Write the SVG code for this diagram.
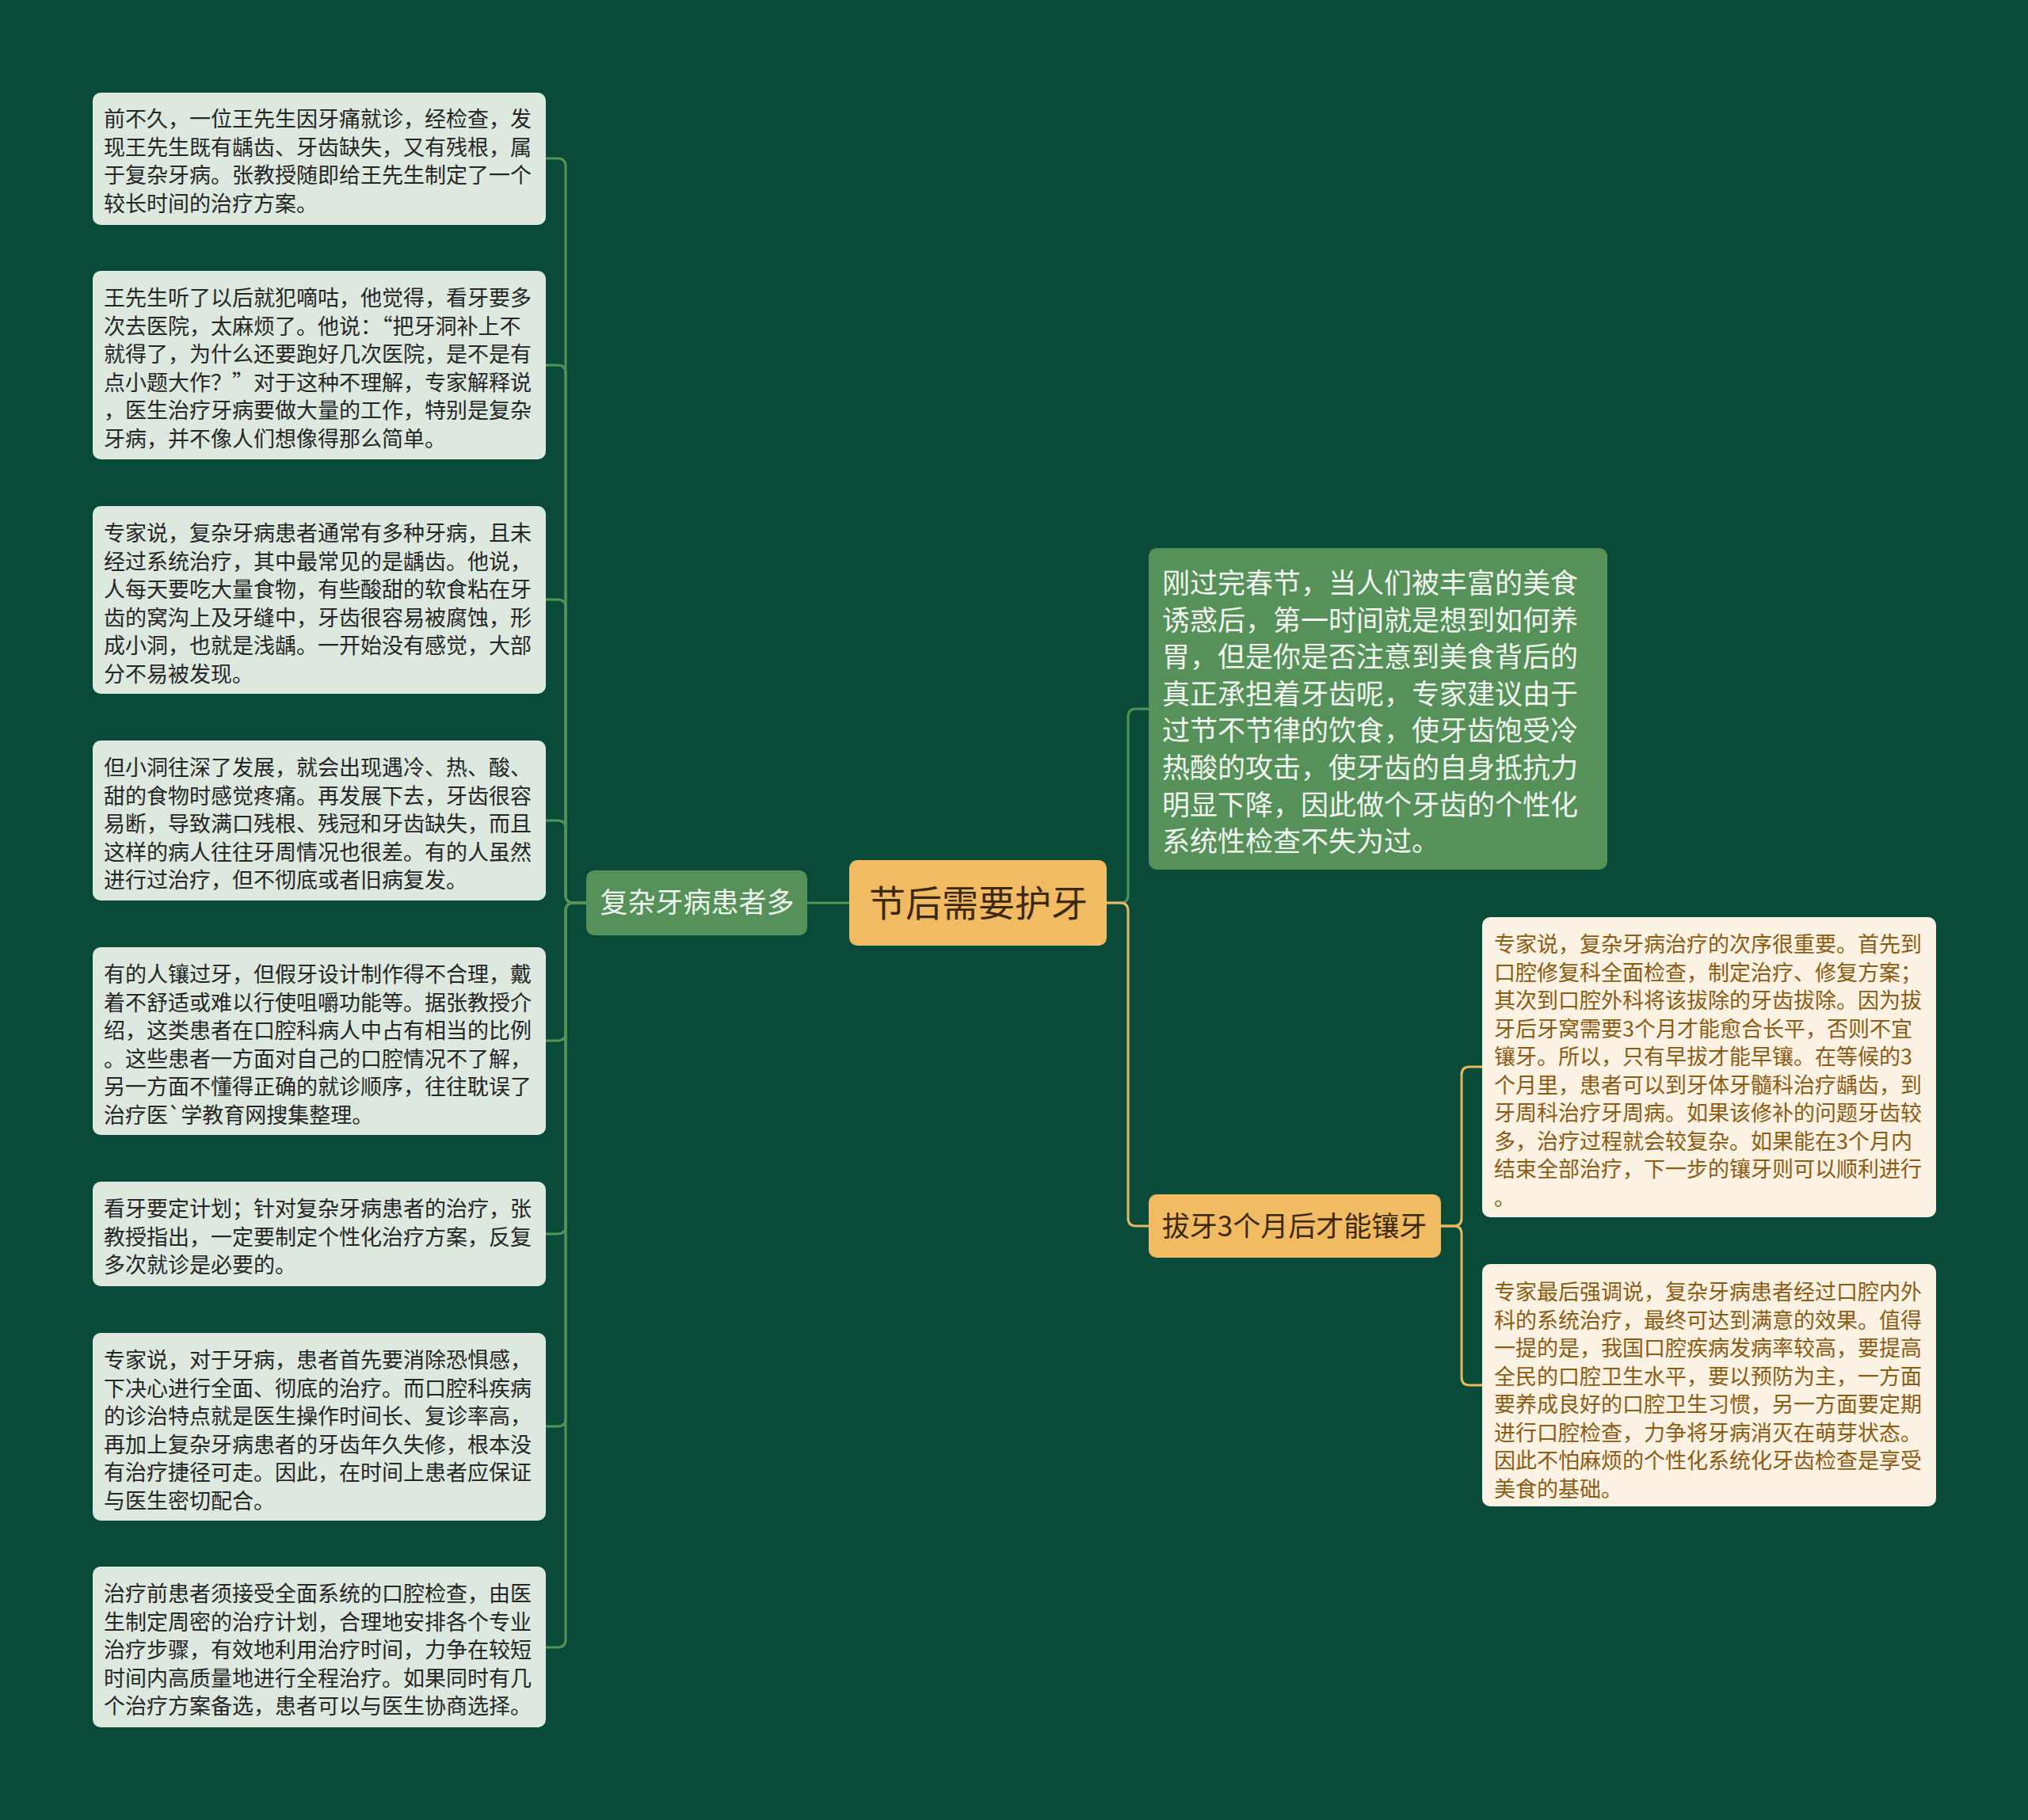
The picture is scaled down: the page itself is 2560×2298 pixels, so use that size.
<svg xmlns="http://www.w3.org/2000/svg" width="2560" height="2298" viewBox="0 0 2560 2298">
<style>
text{font-family:"Noto Sans CJK SC","Noto Sans",sans-serif;}
.lbox{fill:#dde8df;}
.rbox{fill:#fcf2e3;}
.gbox{fill:#559159;}
.obox{fill:#f0bb62;}
.tl{font-size:27px;fill:#262626;}
.tr{font-size:27px;fill:#8d5c12;}
.tg{font-size:35px;fill:#f2f7f2;}
.cg{fill:none;stroke:#559159;stroke-width:3;}
.co{fill:none;stroke:#e8b75e;stroke-width:3;}
</style>
<rect x="0" y="0" width="2560" height="2298" fill="#094a38"/>
<g id="connectors">
<path class="cg" d="M1019,1140 L1072,1140"/>
<path class="cg" d="M1397,1140 L1414,1140 Q1424,1140 1424,1130 L1424,905 Q1424,895 1434,895 L1450,895"/>
<path class="co" d="M1397,1140 L1414,1140 Q1424,1140 1424,1150 L1424,1538 Q1424,1548 1434,1548 L1450,1548"/>
<path class="co" d="M1819,1548 L1835,1548 Q1845,1548 1845,1538 L1845,1357 Q1845,1347 1855,1347 L1871,1347"/>
<path class="co" d="M1819,1548 L1835,1548 Q1845,1548 1845,1558 L1845,1739 Q1845,1749 1855,1749 L1871,1749"/>
<path class="cg" d="M740,1140 L724,1140 Q714,1140 714,1130 L714,210 Q714,200 704,200 L689,200"/>
<path class="cg" d="M740,1140 L724,1140 Q714,1140 714,1130 L714,471 Q714,461 704,461 L689,461"/>
<path class="cg" d="M740,1140 L724,1140 Q714,1140 714,1130 L714,767 Q714,757 704,757 L689,757"/>
<path class="cg" d="M740,1140 L724,1140 Q714,1140 714,1130 L714,1046 Q714,1036 704,1036 L689,1036"/>
<path class="cg" d="M740,1140 L724,1140 Q714,1140 714,1150 L714,1304 Q714,1314 704,1314 L689,1314"/>
<path class="cg" d="M740,1140 L724,1140 Q714,1140 714,1150 L714,1548 Q714,1558 704,1558 L689,1558"/>
<path class="cg" d="M740,1140 L724,1140 Q714,1140 714,1150 L714,1791 Q714,1801 704,1801 L689,1801"/>
<path class="cg" d="M740,1140 L724,1140 Q714,1140 714,1150 L714,2070 Q714,2080 704,2080 L689,2080"/>
</g>
<g id="root">
<rect class="obox" x="1072" y="1086" width="325" height="108" rx="10"/>
<text x="1235" y="1157" font-size="46" fill="#3d2a0e" text-anchor="middle">节后需要护牙</text>
</g>
<g id="branch-left">
<rect class="gbox" x="740" y="1099" width="279" height="82" rx="10"/>
<text x="880" y="1152" font-size="35" fill="#eef5ee" text-anchor="middle">复杂牙病患者多</text>
</g>
<g id="branch-right-top">
<rect class="gbox" x="1450" y="692" width="579" height="406" rx="10"/>
<text class="tg"><tspan x="1467" y="749">刚过完春节，当人们被丰富的美食</tspan><tspan x="1467" dy="46.6">诱惑后，第一时间就是想到如何养</tspan><tspan x="1467" dy="46.6">胃，但是你是否注意到美食背后的</tspan><tspan x="1467" dy="46.6">真正承担着牙齿呢，专家建议由于</tspan><tspan x="1467" dy="46.6">过节不节律的饮食，使牙齿饱受冷</tspan><tspan x="1467" dy="46.6">热酸的攻击，使牙齿的自身抵抗力</tspan><tspan x="1467" dy="46.6">明显下降，因此做个牙齿的个性化</tspan><tspan x="1467" dy="46.6">系统性检查不失为过。</tspan></text>
</g>
<g id="branch-right-bottom">
<rect class="obox" x="1450" y="1508" width="369" height="80" rx="10"/>
<text x="1634" y="1561" font-size="35" fill="#3d2a0e" text-anchor="middle">拔牙3个月后才能镶牙</text>
</g>
<g id="leaf-r1">
<rect class="rbox" x="1871" y="1158" width="573" height="379" rx="10"/>
<text class="tr"><tspan x="1886" y="1202">专家说，复杂牙病治疗的次序很重要。首先到</tspan><tspan x="1886" dy="35.5">口腔修复科全面检查，制定治疗、修复方案；</tspan><tspan x="1886" dy="35.5">其次到口腔外科将该拔除的牙齿拔除。因为拔</tspan><tspan x="1886" dy="35.5">牙后牙窝需要3个月才能愈合长平，否则不宜</tspan><tspan x="1886" dy="35.5">镶牙。所以，只有早拔才能早镶。在等候的3</tspan><tspan x="1886" dy="35.5">个月里，患者可以到牙体牙髓科治疗龋齿，到</tspan><tspan x="1886" dy="35.5">牙周科治疗牙周病。如果该修补的问题牙齿较</tspan><tspan x="1886" dy="35.5">多，治疗过程就会较复杂。如果能在3个月内</tspan><tspan x="1886" dy="35.5">结束全部治疗，下一步的镶牙则可以顺利进行</tspan><tspan x="1886" dy="35.5">。</tspan></text>
</g>
<g id="leaf-r2">
<rect class="rbox" x="1871" y="1596" width="573" height="306" rx="10"/>
<text class="tr"><tspan x="1886" y="1641">专家最后强调说，复杂牙病患者经过口腔内外</tspan><tspan x="1886" dy="35.5">科的系统治疗，最终可达到满意的效果。值得</tspan><tspan x="1886" dy="35.5">一提的是，我国口腔疾病发病率较高，要提高</tspan><tspan x="1886" dy="35.5">全民的口腔卫生水平，要以预防为主，一方面</tspan><tspan x="1886" dy="35.5">要养成良好的口腔卫生习惯，另一方面要定期</tspan><tspan x="1886" dy="35.5">进行口腔检查，力争将牙病消灭在萌芽状态。</tspan><tspan x="1886" dy="35.5">因此不怕麻烦的个性化系统化牙齿检查是享受</tspan><tspan x="1886" dy="35.5">美食的基础。</tspan></text>
</g>
<g id="leaf-l1">
<rect class="lbox" x="117" y="117" width="572" height="167" rx="10"/>
<text class="tl"><tspan x="131" y="160">前不久，一位王先生因牙痛就诊，经检查，发</tspan><tspan x="131" dy="35.6">现王先生既有龋齿、牙齿缺失，又有残根，属</tspan><tspan x="131" dy="35.6">于复杂牙病。张教授随即给王先生制定了一个</tspan><tspan x="131" dy="35.6">较长时间的治疗方案。</tspan></text>
</g>
<g id="leaf-l2">
<rect class="lbox" x="117" y="342" width="572" height="238" rx="10"/>
<text class="tl"><tspan x="131" y="386">王先生听了以后就犯嘀咕，他觉得，看牙要多</tspan><tspan x="131" dy="35.6">次去医院，太麻烦了。他说：“把牙洞补上不</tspan><tspan x="131" dy="35.6">就得了，为什么还要跑好几次医院，是不是有</tspan><tspan x="131" dy="35.6">点小题大作？”对于这种不理解，专家解释说</tspan><tspan x="131" dy="35.6">，医生治疗牙病要做大量的工作，特别是复杂</tspan><tspan x="131" dy="35.6">牙病，并不像人们想像得那么简单。</tspan></text>
</g>
<g id="leaf-l3">
<rect class="lbox" x="117" y="639" width="572" height="237" rx="10"/>
<text class="tl"><tspan x="131" y="683">专家说，复杂牙病患者通常有多种牙病，且未</tspan><tspan x="131" dy="35.6">经过系统治疗，其中最常见的是龋齿。他说，</tspan><tspan x="131" dy="35.6">人每天要吃大量食物，有些酸甜的软食粘在牙</tspan><tspan x="131" dy="35.6">齿的窝沟上及牙缝中，牙齿很容易被腐蚀，形</tspan><tspan x="131" dy="35.6">成小洞，也就是浅龋。一开始没有感觉，大部</tspan><tspan x="131" dy="35.6">分不易被发现。</tspan></text>
</g>
<g id="leaf-l4">
<rect class="lbox" x="117" y="935" width="572" height="202" rx="10"/>
<text class="tl"><tspan x="131" y="979">但小洞往深了发展，就会出现遇冷、热、酸、</tspan><tspan x="131" dy="35.6">甜的食物时感觉疼痛。再发展下去，牙齿很容</tspan><tspan x="131" dy="35.6">易断，导致满口残根、残冠和牙齿缺失，而且</tspan><tspan x="131" dy="35.6">这样的病人往往牙周情况也很差。有的人虽然</tspan><tspan x="131" dy="35.6">进行过治疗，但不彻底或者旧病复发。</tspan></text>
</g>
<g id="leaf-l5">
<rect class="lbox" x="117" y="1196" width="572" height="237" rx="10"/>
<text class="tl"><tspan x="131" y="1240">有的人镶过牙，但假牙设计制作得不合理，戴</tspan><tspan x="131" dy="35.6">着不舒适或难以行使咀嚼功能等。据张教授介</tspan><tspan x="131" dy="35.6">绍，这类患者在口腔科病人中占有相当的比例</tspan><tspan x="131" dy="35.6">。这些患者一方面对自己的口腔情况不了解，</tspan><tspan x="131" dy="35.6">另一方面不懂得正确的就诊顺序，往往耽误了</tspan><tspan x="131" dy="35.6">治疗医`学教育网搜集整理。</tspan></text>
</g>
<g id="leaf-l6">
<rect class="lbox" x="117" y="1492" width="572" height="132" rx="10"/>
<text class="tl"><tspan x="131" y="1536">看牙要定计划；针对复杂牙病患者的治疗，张</tspan><tspan x="131" dy="35.6">教授指出，一定要制定个性化治疗方案，反复</tspan><tspan x="131" dy="35.6">多次就诊是必要的。</tspan></text>
</g>
<g id="leaf-l7">
<rect class="lbox" x="117" y="1683" width="572" height="237" rx="10"/>
<text class="tl"><tspan x="131" y="1727">专家说，对于牙病，患者首先要消除恐惧感，</tspan><tspan x="131" dy="35.6">下决心进行全面、彻底的治疗。而口腔科疾病</tspan><tspan x="131" dy="35.6">的诊治特点就是医生操作时间长、复诊率高，</tspan><tspan x="131" dy="35.6">再加上复杂牙病患者的牙齿年久失修，根本没</tspan><tspan x="131" dy="35.6">有治疗捷径可走。因此，在时间上患者应保证</tspan><tspan x="131" dy="35.6">与医生密切配合。</tspan></text>
</g>
<g id="leaf-l8">
<rect class="lbox" x="117" y="1978" width="572" height="203" rx="10"/>
<text class="tl"><tspan x="131" y="2022">治疗前患者须接受全面系统的口腔检查，由医</tspan><tspan x="131" dy="35.6">生制定周密的治疗计划，合理地安排各个专业</tspan><tspan x="131" dy="35.6">治疗步骤，有效地利用治疗时间，力争在较短</tspan><tspan x="131" dy="35.6">时间内高质量地进行全程治疗。如果同时有几</tspan><tspan x="131" dy="35.6">个治疗方案备选，患者可以与医生协商选择。</tspan></text>
</g>
</svg>
